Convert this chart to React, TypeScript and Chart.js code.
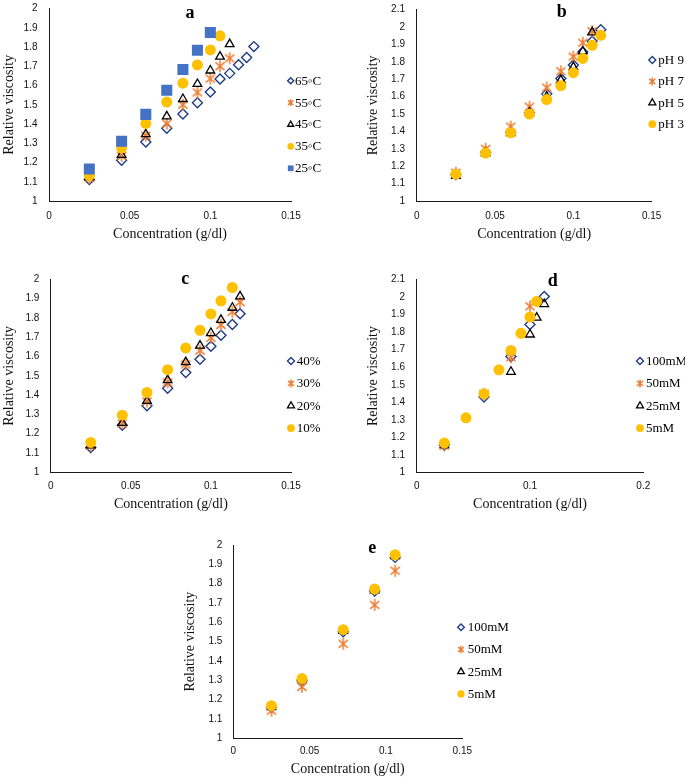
import React, { useEffect, useRef } from 'react';
import { Chart, registerables } from 'chart.js';
Chart.register(...registerables);

// ---------- Panel a (temperature) ----------
const CONC_A = [0.025, 0.045, 0.06, 0.073, 0.083, 0.092, 0.1, 0.106, 0.112, 0.1175, 0.1225, 0.127];
const A_65C = [1.112, 1.212, 1.307, 1.378, 1.452, 1.51, 1.566, 1.634, 1.663, 1.708, 1.746, 1.802];
const A_55C = [1.119, 1.234, 1.339, 1.402, 1.5, 1.564, 1.636, 1.7, 1.741];
const A_45C = [1.124, 1.24, 1.347, 1.44, 1.53, 1.608, 1.678, 1.75, 1.815];
const A_35C = [1.132, 1.276, 1.403, 1.514, 1.612, 1.707, 1.785, 1.858];
const A_25C = [1.166, 1.31, 1.45, 1.575, 1.683, 1.783, 1.875];
const A_LABELS = ['65◦C', '55◦C', '45◦C', '35◦C', '25◦C'];

// ---------- Panel b (pH) ----------
const CONC_B = [0.025, 0.044, 0.06, 0.072, 0.083, 0.092, 0.1, 0.106, 0.112, 0.1175];
const B_PH9 = [1.153, 1.281, 1.395, 1.508, 1.616, 1.704, 1.782, 1.857, 1.918, 1.985];
const B_PH7 = [1.163, 1.3, 1.428, 1.542, 1.652, 1.746, 1.83, 1.91, 1.977];
const B_PH5 = [1.145, 1.276, 1.39, 1.508, 1.6, 1.695, 1.77, 1.86, 1.97];
const B_PH3 = [1.154, 1.276, 1.392, 1.5, 1.583, 1.663, 1.738, 1.82, 1.895, 1.953];
const B_LABELS = ['pH 9', 'pH 7', 'pH 5', 'pH 3'];

// ---------- Panel c (percent) ----------
const CONC_C = [0.025, 0.0447, 0.0601, 0.073, 0.0843, 0.0932, 0.1, 0.1063, 0.1134, 0.1182];
const C_40 = [1.128, 1.244, 1.345, 1.436, 1.517, 1.586, 1.653, 1.71, 1.766, 1.822];
const C_30 = [1.138, 1.253, 1.367, 1.466, 1.559, 1.631, 1.697, 1.764, 1.832, 1.882];
const C_20 = [1.14, 1.256, 1.37, 1.478, 1.571, 1.657, 1.722, 1.79, 1.853, 1.912];
const C_10 = [1.155, 1.296, 1.414, 1.532, 1.645, 1.736, 1.821, 1.889, 1.958];
const C_LABELS = ['40%', '30%', '20%', '10%'];

// ---------- Panel d (salt) ----------
const D_100_X = [0.0244, 0.0594, 0.0832, 0.1, 0.1126];
const D_100_Y = [1.156, 1.43, 1.661, 1.844, 2.004];
const D_50_X = [0.0244, 0.0594, 0.0832, 0.1];
const D_50_Y = [1.152, 1.448, 1.657, 1.948];
const D_25_X = [0.0244, 0.0832, 0.1, 0.1059, 0.1126];
const D_25_Y = [1.156, 1.574, 1.787, 1.883, 1.961];
const D_5_X = [0.0244, 0.0435, 0.0594, 0.0726, 0.0832, 0.092, 0.1, 0.1059];
const D_5_Y = [1.167, 1.311, 1.448, 1.585, 1.696, 1.794, 1.887, 1.976];
const D_LABELS = ['100mM', '50mM', '25mM', '5mM'];

// ---------- Panel e (salt) ----------
const CONC_E = [0.025, 0.045, 0.072, 0.0926, 0.106];
const E_100 = [1.16, 1.3, 1.551, 1.762, 1.936];
const E_50 = [1.143, 1.266, 1.489, 1.69, 1.867];
const E_25 = [1.162, 1.305, 1.556, 1.766, 1.942];
const E_5 = [1.169, 1.309, 1.562, 1.772, 1.949];
const E_LABELS = ['100mM', '50mM', '25mM', '5mM'];

// ---------- Ticks ----------
const X_TICKS_015 = [0, 0.05, 0.1, 0.15];
const X_TICKS_02 = [0, 0.1, 0.2];
const Y_TICKS_20 = [1, 1.1, 1.2, 1.3, 1.4, 1.5, 1.6, 1.7, 1.8, 1.9, 2];
const Y_TICKS_21 = [1, 1.1, 1.2, 1.3, 1.4, 1.5, 1.6, 1.7, 1.8, 1.9, 2, 2.1];

const X_TITLE = 'Concentration (g/dl)';
const Y_TITLE = 'Relative viscosity';

const SERIF = '"Liberation Serif", "Times New Roman", serif';
const SANS = '"Liberation Sans", Arial, sans-serif';

type Kind = 'diamond' | 'asterisk' | 'triangle' | 'circle' | 'square';

const MARK: Record<Kind, { r: number; fill: string; stroke: string; lw: number }> = {
  diamond: { r: 5, fill: 'rgba(0,0,0,0)', stroke: '#1F3C88', lw: 1.4 },
  asterisk: { r: 6, fill: 'rgba(0,0,0,0)', stroke: '#ED7D31', lw: 1.5 },
  triangle: { r: 5, fill: 'rgba(0,0,0,0)', stroke: '#000000', lw: 1.3 },
  circle: { r: 5.5, fill: '#FFC000', stroke: '#FFC000', lw: 0 },
  square: { r: 7.8, fill: '#4472C4', stroke: '#4472C4', lw: 0 },
};

function asteriskPath(ctx: CanvasRenderingContext2D, x: number, y: number, r: number) {
  const angles = [90, 40, 140];
  for (const a of angles) {
    const rad = (a * Math.PI) / 180;
    ctx.moveTo(x - Math.cos(rad) * r, y - Math.sin(rad) * r);
    ctx.lineTo(x + Math.cos(rad) * r, y + Math.sin(rad) * r);
  }
}

function makeAsteriskImage(r: number, lw: number, color: string) {
  const s = Math.ceil(2 * r + 2);
  const c = document.createElement('canvas');
  c.width = s;
  c.height = s;
  const ctx = c.getContext('2d')!;
  ctx.strokeStyle = color;
  ctx.lineWidth = lw;
  ctx.beginPath();
  asteriskPath(ctx, s / 2, s / 2, r);
  ctx.stroke();
  return c;
}

function drawLegendMarker(ctx: CanvasRenderingContext2D, kind: Kind, x: number, y: number, r: number) {
  const m = MARK[kind];
  ctx.save();
  ctx.beginPath();
  ctx.lineWidth = m.lw;
  ctx.strokeStyle = m.stroke;
  ctx.fillStyle = m.fill;
  if (kind === 'diamond') {
    ctx.moveTo(x, y - r);
    ctx.lineTo(x + r, y);
    ctx.lineTo(x, y + r);
    ctx.lineTo(x - r, y);
    ctx.closePath();
    ctx.stroke();
  } else if (kind === 'asterisk') {
    asteriskPath(ctx, x, y, r * 1.15);
    ctx.stroke();
  } else if (kind === 'triangle') {
    const rr = r * 1.15;
    ctx.moveTo(x, y - rr);
    ctx.lineTo(x + rr * 0.866, y + rr * 0.5);
    ctx.lineTo(x - rr * 0.866, y + rr * 0.5);
    ctx.closePath();
    ctx.stroke();
  } else if (kind === 'circle') {
    ctx.arc(x, y, r * 1.1, 0, Math.PI * 2);
    ctx.fill();
  } else {
    const h = r * 0.95;
    ctx.rect(x - h, y - h, 2 * h, 2 * h);
    ctx.fill();
  }
  ctx.restore();
}

type Series = { label: string; kind: Kind; x: number[]; y: number[] };

type PanelCfg = {
  letter: string;
  letterPos: [number, number];
  series: Series[];
  xTicks: number[];
  yTicks: number[];
  plot: { l: number; r: number; t: number; b: number };
  canvasLeft: number;
  rightEdge: number;
  yTitleX: number;
  yLabelGap: number;
  xLabelY: number;
  xTitleY: number;
  legend: { mx: number; tx: number; y0: number; step: number; r: number };
};

const PANELS: PanelCfg[] = [
  {
    letter: 'a',
    letterPos: [190, 18.3],
    series: [
      { label: A_LABELS[0], kind: 'diamond', x: CONC_A, y: A_65C },
      { label: A_LABELS[1], kind: 'asterisk', x: CONC_A, y: A_55C },
      { label: A_LABELS[2], kind: 'triangle', x: CONC_A, y: A_45C },
      { label: A_LABELS[3], kind: 'circle', x: CONC_A, y: A_35C },
      { label: A_LABELS[4], kind: 'square', x: CONC_A, y: A_25C },
    ],
    xTicks: X_TICKS_015,
    yTicks: Y_TICKS_20,
    plot: { l: 49, r: 291, t: 3.5, b: 201 },
    canvasLeft: 0,
    rightEdge: 342,
    yTitleX: 9,
    yLabelGap: 11.5,
    xLabelY: 215.8,
    xTitleY: 234.3,
    legend: { mx: 290.7, tx: 295, y0: 80.7, step: 21.9, r: 3 },
  },
  {
    letter: 'b',
    letterPos: [561.7, 16.7],
    series: [
      { label: B_LABELS[0], kind: 'diamond', x: CONC_B, y: B_PH9 },
      { label: B_LABELS[1], kind: 'asterisk', x: CONC_B, y: B_PH7 },
      { label: B_LABELS[2], kind: 'triangle', x: CONC_B, y: B_PH5 },
      { label: B_LABELS[3], kind: 'circle', x: CONC_B, y: B_PH3 },
    ],
    xTicks: X_TICKS_015,
    yTicks: Y_TICKS_21,
    plot: { l: 416.7, r: 651.7, t: 4, b: 201 },
    canvasLeft: 357,
    rightEdge: 685,
    yTitleX: 373.8,
    yLabelGap: 11.7,
    xLabelY: 216,
    xTitleY: 234.3,
    legend: { mx: 652.3, tx: 658.3, y0: 60, step: 21.4, r: 3.5 },
  },
  {
    letter: 'c',
    letterPos: [185.2, 284.3],
    series: [
      { label: C_LABELS[0], kind: 'diamond', x: CONC_C, y: C_40 },
      { label: C_LABELS[1], kind: 'asterisk', x: CONC_C, y: C_30 },
      { label: C_LABELS[2], kind: 'triangle', x: CONC_C, y: C_20 },
      { label: C_LABELS[3], kind: 'circle', x: CONC_C, y: C_10 },
    ],
    xTicks: X_TICKS_015,
    yTicks: Y_TICKS_20,
    plot: { l: 50.7, r: 291, t: 274.3, b: 472.3 },
    canvasLeft: 0,
    rightEdge: 342,
    yTitleX: 9.3,
    yLabelGap: 11.4,
    xLabelY: 486.7,
    xTitleY: 504.3,
    legend: { mx: 291, tx: 296.7, y0: 361, step: 22.4, r: 3.5 },
  },
  {
    letter: 'd',
    letterPos: [552.8, 285.7],
    series: [
      { label: D_LABELS[0], kind: 'diamond', x: D_100_X, y: D_100_Y },
      { label: D_LABELS[1], kind: 'asterisk', x: D_50_X, y: D_50_Y },
      { label: D_LABELS[2], kind: 'triangle', x: D_25_X, y: D_25_Y },
      { label: D_LABELS[3], kind: 'circle', x: D_5_X, y: D_5_Y },
    ],
    xTicks: X_TICKS_02,
    yTicks: Y_TICKS_21,
    plot: { l: 416.7, r: 643.3, t: 274.3, b: 472.3 },
    canvasLeft: 357,
    rightEdge: 685,
    yTitleX: 373.8,
    yLabelGap: 11.7,
    xLabelY: 486.7,
    xTitleY: 504.3,
    legend: { mx: 640, tx: 646, y0: 361, step: 22.4, r: 3.5 },
  },
  {
    letter: 'e',
    letterPos: [372.2, 552.7],
    series: [
      { label: E_LABELS[0], kind: 'diamond', x: CONC_E, y: E_100 },
      { label: E_LABELS[1], kind: 'asterisk', x: CONC_E, y: E_50 },
      { label: E_LABELS[2], kind: 'triangle', x: CONC_E, y: E_25 },
      { label: E_LABELS[3], kind: 'circle', x: CONC_E, y: E_5 },
    ],
    xTicks: X_TICKS_015,
    yTicks: Y_TICKS_20,
    plot: { l: 233.3, r: 462.3, t: 540.7, b: 738.3 },
    canvasLeft: 175,
    rightEdge: 520,
    yTitleX: 190.8,
    yLabelGap: 11,
    xLabelY: 751,
    xTitleY: 769.3,
    legend: { mx: 461, tx: 467.7, y0: 627.3, step: 22.2, r: 3.3 },
  },
];

const TITLE_FONT = { family: SERIF, size: 14 };
const TITLE_LH = 14 * 1.2;
const TICK_FONT = { family: SANS, size: 10 };
const TICK_LH = 10 * 1.2;

function geom(p: PanelCfg) {
  const top = Math.floor(p.plot.t - 12);
  const padTop = p.plot.t - top;
  const xH = p.xTitleY - p.plot.b + TITLE_LH / 2 + 2;
  const h = Math.ceil(p.plot.b + xH - top);
  const padBottom = h - (p.plot.b + xH - top);
  const w = p.rightEdge - p.canvasLeft;
  const yW = p.plot.l - p.canvasLeft;
  const padRight = p.rightEdge - p.plot.r;
  return { left: p.canvasLeft, top, w, h, padTop, padBottom, padRight, xH, yW };
}

const fmt = (v: number) => String(Math.round(v * 100) / 100);

function buildConfig(p: PanelCfg): any {
  const g = geom(p);
  const n = p.series.length;
  const datasets = p.series.map((s, i) => {
    const m = MARK[s.kind];
    const style: any =
      s.kind === 'diamond' ? 'rectRot' :
      s.kind === 'triangle' ? 'triangle' :
      s.kind === 'circle' ? 'circle' :
      s.kind === 'square' ? 'rect' :
      makeAsteriskImage(m.r, m.lw, m.stroke);
    return {
      label: s.label,
      data: s.y.map((v, j) => ({ x: s.x[j], y: v })),
      pointStyle: style,
      pointRadius: m.r,
      pointHoverRadius: m.r,
      pointBackgroundColor: m.fill,
      pointBorderColor: m.stroke,
      pointBorderWidth: m.lw,
      pointHoverBorderWidth: m.lw,
      showLine: false,
      order: n - i,
    };
  });

  const legendPlugin = {
    id: 'panelLegend',
    afterDraw(chart: any) {
      const ctx: CanvasRenderingContext2D = chart.ctx;
      ctx.save();
      p.series.forEach((s, i) => {
        const y = p.legend.y0 + i * p.legend.step - g.top;
        drawLegendMarker(ctx, s.kind, p.legend.mx - g.left, y, p.legend.r);
        ctx.fillStyle = '#000';
        ctx.font = `13px ${SERIF}`;
        ctx.textAlign = 'left';
        ctx.textBaseline = 'middle';
        ctx.fillText(s.label, p.legend.tx - g.left, y + 0.5);
      });
      ctx.font = `bold 18px ${SERIF}`;
      ctx.textAlign = 'center';
      ctx.textBaseline = 'alphabetic';
      ctx.fillText(p.letter, p.letterPos[0] - g.left, p.letterPos[1] - g.top);
      ctx.restore();
    },
  };

  const xMin = p.xTicks[0];
  const xMax = p.xTicks[p.xTicks.length - 1];
  const yMin = p.yTicks[0];
  const yMax = p.yTicks[p.yTicks.length - 1];

  return {
    type: 'scatter',
    data: { datasets },
    options: {
      animation: false,
      responsive: false,
      maintainAspectRatio: false,
      devicePixelRatio: 1,
      events: [],
      layout: { padding: { top: g.padTop, right: g.padRight, bottom: g.padBottom, left: 0 } },
      plugins: { legend: { display: false }, tooltip: { enabled: false }, title: { display: false } },
      scales: {
        x: {
          type: 'linear',
          position: 'bottom',
          min: xMin,
          max: xMax,
          afterBuildTicks: (s: any) => {
            s.ticks = p.xTicks.map((v) => ({ value: v }));
          },
          afterFit: (s: any) => {
            s.height = g.xH;
          },
          grid: { display: false, drawTicks: false },
          border: { display: true, color: '#1a1a1a', width: 1 },
          ticks: {
            padding: p.xLabelY - p.plot.b - TICK_LH / 2,
            font: TICK_FONT,
            color: '#111',
            maxRotation: 0,
            autoSkip: false,
            callback: (v: any) => fmt(Number(v)),
          },
          title: { display: true, text: X_TITLE, font: TITLE_FONT, color: '#111', padding: { top: 0, bottom: 2 } },
        },
        y: {
          type: 'linear',
          position: 'left',
          min: yMin,
          max: yMax,
          afterBuildTicks: (s: any) => {
            s.ticks = p.yTicks.map((v) => ({ value: v }));
          },
          afterFit: (s: any) => {
            s.width = g.yW;
          },
          grid: { display: false, drawTicks: false },
          border: { display: true, color: '#1a1a1a', width: 1 },
          ticks: {
            padding: p.yLabelGap,
            font: TICK_FONT,
            color: '#111',
            autoSkip: false,
            callback: (v: any) => fmt(Number(v)),
          },
          title: {
            display: true,
            text: Y_TITLE,
            font: TITLE_FONT,
            color: '#111',
            padding: { top: p.yTitleX - p.canvasLeft - TITLE_LH / 2, bottom: 0 },
          },
        },
      },
    },
    plugins: [legendPlugin],
  };
}

function Panel({ cfg }: { cfg: PanelCfg }) {
  const ref = useRef<HTMLCanvasElement>(null);
  const g = geom(cfg);
  useEffect(() => {
    const chart = new Chart(ref.current!, buildConfig(cfg));
    return () => chart.destroy();
  }, [cfg]);
  return (
    <canvas
      ref={ref}
      width={g.w}
      height={g.h}
      style={{ position: 'absolute', left: g.left, top: g.top, width: g.w, height: g.h }}
    />
  );
}

export default function App() {
  return (
    <div
      style={{
        position: 'fixed',
        left: 0,
        top: 0,
        width: 685,
        height: 778,
        background: '#ffffff',
        overflow: 'hidden',
      }}
    >
      {PANELS.map((p) => (
        <Panel key={p.letter} cfg={p} />
      ))}
    </div>
  );
}
